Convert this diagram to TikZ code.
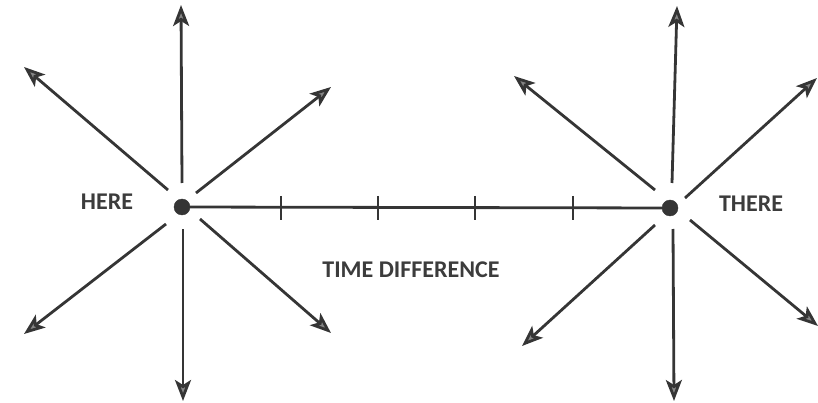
\documentclass[tikz,border=0pt]{standalone}
\usepackage{fontspec}
\setmainfont{Carlito}
\usetikzlibrary{arrows.meta}
\definecolor{ink}{HTML}{353535}
\definecolor{txt}{HTML}{3C3C3C}
\tikzset{
  ray/.style={draw=ink, line width=2.8pt, -{Stealth[length=21pt,width=16pt,inset=5pt,fill=ink!60]}},
  dot/.style={circle, fill=ink, draw=ink, inner sep=0pt, minimum size=16pt},
  label/.style={font=\bfseries\fontsize{24}{26}\selectfont, text=txt, inner sep=0pt},
  tick/.style={draw=ink, line width=2.6pt},
  axis/.style={draw=ink, line width=2.8pt}
}
\begin{document}
\begin{tikzpicture}[x=1pt,y=-1pt]
\useasboundingbox (0,0) rectangle (818,403);
% centres
\node[dot] (here) at (182,207) {};
\node[dot] (there) at (670,208) {};
% labels
\node[label] (lh) at (107,202) {HERE};
\node[label] (lt) at (751,204) {THERE};
\node[label] (ltd) at (411,270) {TIME DIFFERENCE};
% time line
\draw[axis] (here) -- (there);
\foreach \n/\x in {t1/281,t2/378,t3/475,t4/573}{
  \coordinate (\n) at (\x,208);
  \draw[tick] ([yshift=12pt]\n) -- ([yshift=-12pt]\n);
}
% left rays
\coordinate (hu0) at (182,183); \coordinate (hu1) at (181,5);
\coordinate (hd0) at (183,229); \coordinate (hd1) at (183,401);
\coordinate (hul0) at (168,190); \coordinate (hul1) at (24,67);
\coordinate (hur0) at (196,193); \coordinate (hur1) at (331,87);
\coordinate (hll0) at (166,224); \coordinate (hll1) at (24,334);
\coordinate (hlr0) at (200,219); \coordinate (hlr1) at (331,333);
\foreach \a in {hu,hd,hul,hur,hll,hlr}{\draw[ray] (\a0) -- (\a1);}
% right rays
\coordinate (tu0) at (672,183); \coordinate (tu1) at (677,6);
\coordinate (td0) at (673,229); \coordinate (td1) at (674,401);
\coordinate (tul0) at (655,190); \coordinate (tul1) at (514,76);
\coordinate (tur0) at (685,198); \coordinate (tur1) at (817,78);
\coordinate (tll0) at (655,225); \coordinate (tll1) at (522,346);
\coordinate (tlr0) at (690,220); \coordinate (tlr1) at (818,326);
\foreach \a in {tu,td,tul,tur,tll,tlr}{\draw[ray] (\a0) -- (\a1);}
\end{tikzpicture}
\end{document}
